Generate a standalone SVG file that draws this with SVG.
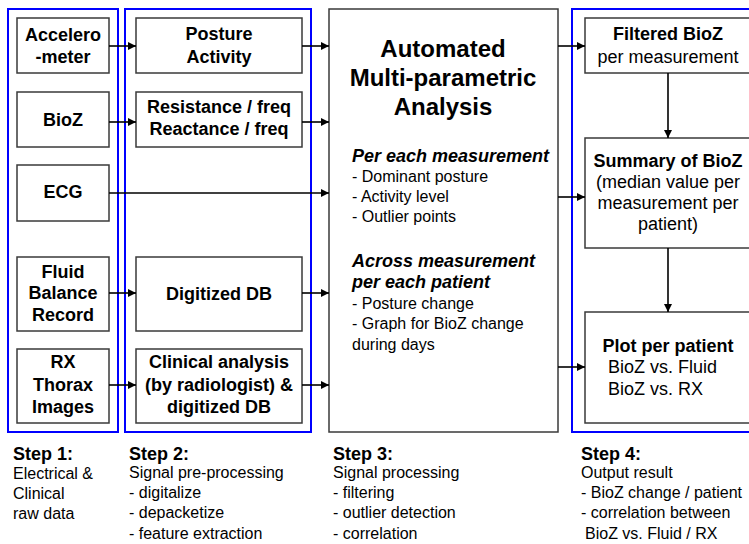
<svg xmlns="http://www.w3.org/2000/svg" width="749" height="544" viewBox="0 0 749 544">
  <style>
    text { font-family: "Liberation Sans", Arial, sans-serif; fill: #000; }
    .b { font-weight: bold; font-size: 18px; }
    .bc { font-weight: bold; font-size: 18px; text-anchor: middle; }
    .rc { font-size: 18px; text-anchor: middle; }
    .rl { font-size: 18px; }
    .r16 { font-size: 16px; }
    .bi { font-weight: bold; font-style: italic; font-size: 18px; }
    .title { font-weight: bold; font-size: 24px; text-anchor: middle; }
    .box { fill: #fff; stroke: #3a3a3a; stroke-width: 1.5; }
    .col { fill: none; stroke: #0000ff; stroke-width: 2; }
    .wire { stroke: #000; stroke-width: 1.6; fill: none; marker-end: url(#arrow); }
  </style>
  <defs>
    <marker id="arrow" viewBox="0 0 10 10" refX="10" refY="5" markerWidth="8" markerHeight="8" markerUnits="userSpaceOnUse" orient="auto">
      <path d="M0,0 L10,5 L0,10 z" fill="#000"/>
    </marker>
  </defs>

  <rect width="749" height="544" fill="#fff"/>

  <!-- step columns -->
  <g id="columns">
    <rect class="col" x="8" y="9" width="110" height="423"/>
    <rect class="col" x="125" y="9" width="186" height="423"/>
    <rect class="col" x="572" y="9" width="190" height="423"/>
  </g>

  <!-- step 1: raw data sources -->
  <g id="accelerometer">
    <rect class="box" x="17" y="18" width="92" height="55"/>
    <text class="bc" x="63" y="41">Accelero</text>
    <text class="bc" x="63" y="63">-meter</text>
  </g>
  <g id="bioz">
    <rect class="box" x="17" y="92" width="92" height="55"/>
    <text class="bc" x="63" y="126">BioZ</text>
  </g>
  <g id="ecg">
    <rect class="box" x="17" y="165" width="92" height="56"/>
    <text class="bc" x="63" y="198">ECG</text>
  </g>
  <g id="fluid-balance">
    <rect class="box" x="17" y="257" width="92" height="74"/>
    <text class="bc" x="63" y="278">Fluid</text>
    <text class="bc" x="63" y="299">Balance</text>
    <text class="bc" x="63" y="321">Record</text>
  </g>
  <g id="rx-thorax">
    <rect class="box" x="17" y="349" width="92" height="74"/>
    <text class="bc" x="63" y="368">RX</text>
    <text class="bc" x="63" y="391">Thorax</text>
    <text class="bc" x="63" y="413">Images</text>
  </g>

  <!-- step 2: pre-processing -->
  <g id="posture-activity">
    <rect class="box" x="136" y="18" width="166" height="55"/>
    <text class="bc" x="219" y="40">Posture</text>
    <text class="bc" x="219" y="63">Activity</text>
  </g>
  <g id="resistance-reactance">
    <rect class="box" x="136" y="92" width="166" height="55"/>
    <text class="bc" x="219" y="113">Resistance / freq</text>
    <text class="bc" x="219" y="135">Reactance / freq</text>
  </g>
  <g id="digitized-db">
    <rect class="box" x="136" y="257" width="166" height="74"/>
    <text class="bc" x="219" y="300">Digitized DB</text>
  </g>
  <g id="clinical-analysis">
    <rect class="box" x="136" y="349" width="166" height="74"/>
    <text class="bc" x="219" y="368">Clinical analysis</text>
    <text class="bc" x="219" y="391">(by radiologist) &amp;</text>
    <text class="bc" x="219" y="413">digitized DB</text>
  </g>

  <!-- step 3: analysis -->
  <g id="analysis">
    <rect class="box" x="329" y="9" width="229" height="423"/>
    <text class="title" x="443" y="57">Automated</text>
    <text class="title" x="443" y="86">Multi-parametric</text>
    <text class="title" x="443" y="115">Analysis</text>
    <text class="bi" x="352" y="162">Per each measurement</text>
    <text class="r16" x="352" y="182">- Dominant posture</text>
    <text class="r16" x="352" y="202">- Activity level</text>
    <text class="r16" x="352" y="222">- Outlier points</text>
    <text class="bi" x="352" y="267">Across measurement</text>
    <text class="bi" x="352" y="288">per each patient</text>
    <text class="r16" x="352" y="309">- Posture change</text>
    <text class="r16" x="352" y="329">- Graph for BioZ change</text>
    <text class="r16" x="352" y="350">during days</text>
  </g>

  <!-- step 4: outputs -->
  <g id="filtered-bioz">
    <rect class="box" x="585" y="18" width="175" height="55"/>
    <text class="bc" x="668" y="40">Filtered BioZ</text>
    <text class="rc" x="668" y="63">per measurement</text>
  </g>
  <g id="summary-bioz">
    <rect class="box" x="585" y="138" width="175" height="110"/>
    <text class="bc" x="668" y="167">Summary of BioZ</text>
    <text class="rc" x="668" y="188">(median value per</text>
    <text class="rc" x="668" y="209">measurement per</text>
    <text class="rc" x="668" y="230">patient)</text>
  </g>
  <g id="plot-per-patient">
    <rect class="box" x="585" y="312" width="175" height="111"/>
    <text class="bc" x="668" y="352">Plot per patient</text>
    <text class="rl" x="608" y="373">BioZ vs. Fluid</text>
    <text class="rl" x="608" y="395">BioZ vs. RX</text>
  </g>

  <!-- connectors -->
  <g id="connectors">
    <line class="wire" x1="109" y1="46" x2="136" y2="46"/>
    <line class="wire" x1="109" y1="122" x2="136" y2="122"/>
    <line class="wire" x1="109" y1="193" x2="329" y2="193"/>
    <line class="wire" x1="109" y1="293" x2="136" y2="293"/>
    <line class="wire" x1="109" y1="385" x2="136" y2="385"/>
    <line class="wire" x1="302" y1="46" x2="329" y2="46"/>
    <line class="wire" x1="302" y1="122" x2="329" y2="122"/>
    <line class="wire" x1="302" y1="293" x2="329" y2="293"/>
    <line class="wire" x1="302" y1="385" x2="329" y2="385"/>
    <line class="wire" x1="558" y1="46" x2="585" y2="46"/>
    <line class="wire" x1="558" y1="197" x2="585" y2="197"/>
    <line class="wire" x1="558" y1="367" x2="585" y2="367"/>
    <line class="wire" x1="668" y1="73" x2="668" y2="138"/>
    <line class="wire" x1="668" y1="248" x2="668" y2="312"/>
  </g>

  <!-- step captions -->
  <g id="captions">
    <text class="b" x="13" y="460">Step 1:</text>
    <text class="r16" x="13" y="479">Electrical &amp;</text>
    <text class="r16" x="13" y="499">Clinical</text>
    <text class="r16" x="13" y="519">raw data</text>

    <text class="b" x="129" y="460">Step 2:</text>
    <text class="r16" x="129" y="478">Signal pre-processing</text>
    <text class="r16" x="129" y="498">- digitalize</text>
    <text class="r16" x="129" y="518">- depacketize</text>
    <text class="r16" x="129" y="539">- feature extraction</text>

    <text class="b" x="333" y="460">Step 3:</text>
    <text class="r16" x="333" y="478">Signal processing</text>
    <text class="r16" x="333" y="498">- filtering</text>
    <text class="r16" x="333" y="518">- outlier detection</text>
    <text class="r16" x="333" y="539">- correlation</text>

    <text class="b" x="581" y="460">Step 4:</text>
    <text class="r16" x="581" y="478">Output result</text>
    <text class="r16" x="581" y="498">- BioZ change / patient</text>
    <text class="r16" x="581" y="518">- correlation between</text>
    <text class="r16" x="585" y="539">BioZ vs. Fluid / RX</text>
  </g>
</svg>
